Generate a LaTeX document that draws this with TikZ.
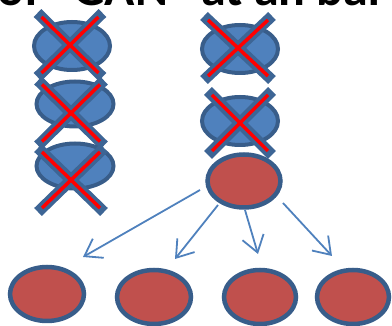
\documentclass[tikz,border=0pt]{standalone}
\usepackage{fontspec}
\setmainfont{Carlito}
\usetikzlibrary{shapes.geometric,arrows.meta}
\definecolor{ellblue}{HTML}{4F81BD}
\definecolor{edgeblue}{HTML}{385D8A}
\definecolor{barblue}{HTML}{3D6595}
\definecolor{ellred}{HTML}{C0504D}
\tikzset{
  blueell/.style={ellipse, fill=ellblue, draw=edgeblue, line width=4pt, inner sep=0pt},
  redell/.style={ellipse, fill=ellred, draw=edgeblue, line width=4.5pt, inner sep=0pt},
  barout/.style={draw=barblue, line width=11pt, line cap=butt},
  barin/.style={draw=red, line width=3.5pt, line cap=butt},
  flow/.style={draw=ellblue, line width=1.8pt, -{Straight Barb[length=16pt,width=22pt,line width=1.8pt]}},
  headline/.style={font=\bfseries\fontsize{50}{60}\selectfont, anchor=base west, inner sep=0pt, outer sep=0pt}
}
\newcommand\mycross[5]{% name, cx, cy, hw, hh
  \coordinate (#1) at (#2,#3);
  \draw[barout] ([shift={(-#4-4,-#5-4)}]#1) -- ([shift={(#4+4,#5+4)}]#1);
  \draw[barout] ([shift={(#4+4,-#5-4)}]#1) -- ([shift={(-#4-4,#5+4)}]#1);
  \draw[barin] ([shift={(-#4,-#5)}]#1) -- ([shift={(#4,#5)}]#1);
  \draw[barin] ([shift={(#4,-#5)}]#1) -- ([shift={(-#4,#5)}]#1);
}
\begin{document}
\begin{tikzpicture}[x=1pt,y=-1pt]
\useasboundingbox (0,0) rectangle (392,326);
\clip (0,0) rectangle (392,326);
\node[headline] (ttl) at (-2,5.5) {of “GAN” at an bar};
% left column
\node[blueell, minimum width=76pt, minimum height=48pt] (l1) at (72,46) {};
\mycross{x1}{70}{45}{28.5}{28}
\node[blueell, minimum width=77pt, minimum height=45pt] (l2) at (75,104) {};
\mycross{x2}{71}{113}{29}{28.5}
\node[blueell, minimum width=77pt, minimum height=45pt] (l3) at (75,166) {};
\mycross{x3}{71}{180}{29}{28}
% right column
\node[blueell, minimum width=76pt, minimum height=48pt] (r1) at (240,49) {};
\mycross{x4}{238}{48}{30}{28}
\node[blueell, minimum width=76pt, minimum height=48pt] (r2) at (240,121) {};
\mycross{x5}{240}{123}{28}{28}
\node[redell, minimum width=73pt, minimum height=53pt] (top) at (244,181) {};
% bottom row
\node[redell, minimum width=74pt, minimum height=54pt] (a) at (47,294) {};
\node[redell, minimum width=74pt, minimum height=54pt] (b) at (154,297) {};
\node[redell, minimum width=72pt, minimum height=54pt] (c) at (260,297) {};
\node[redell, minimum width=72pt, minimum height=54pt] (d) at (353,297) {};
% arrows
\coordinate (s1) at (200,190); \coordinate (e1) at (83,257);
\coordinate (s2) at (218,205); \coordinate (e2) at (175,259);
\coordinate (s3) at (245,210); \coordinate (e3) at (258,254);
\coordinate (s4) at (283,203); \coordinate (e4) at (332,256);
\draw[flow] (s1) -- (e1);
\draw[flow] (s2) -- (e2);
\draw[flow] (s3) -- (e3);
\draw[flow] (s4) -- (e4);
\end{tikzpicture}
\end{document}
